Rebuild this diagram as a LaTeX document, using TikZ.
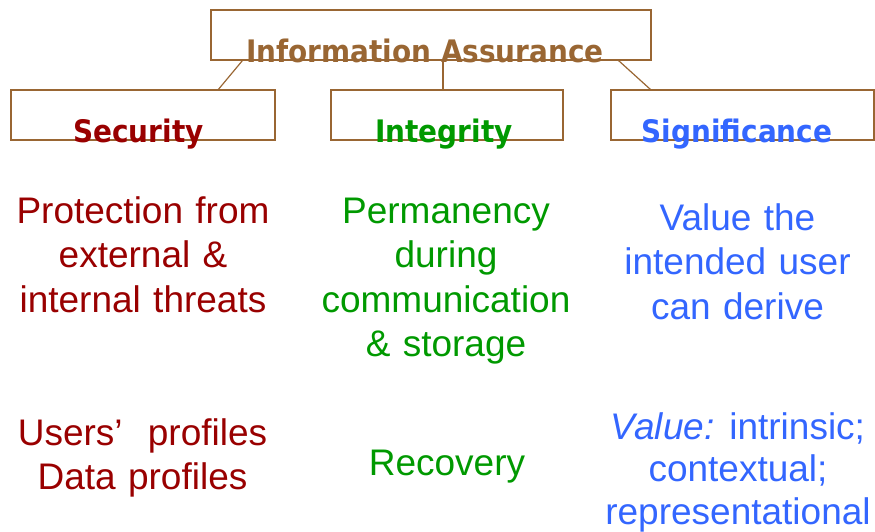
\documentclass[tikz,border=0pt]{standalone}
\usepackage{fontspec}
\setmainfont{Liberation Sans}
\newfontfamily\headfont{DejaVu Sans Condensed}
\usetikzlibrary{positioning}
\definecolor{iabrown}{RGB}{153,102,51}
\definecolor{secred}{RGB}{153,0,0}
\definecolor{intgreen}{RGB}{0,153,0}
\definecolor{sigblue}{RGB}{51,102,255}
\tikzset{box/.style={rectangle,draw=iabrown,line width=1.2pt,minimum height=50pt,inner sep=0pt}}
\tikzset{head/.style={anchor=base,inner sep=0pt,font=\headfont\bfseries\fontsize{31}{36}\selectfont}}
\tikzset{body/.style={anchor=base,inner sep=0pt,text width=300pt,align=center,font=\fontsize{37}{44.5}\selectfont}}
\tikzset{link/.style={draw=iabrown,line width=1.2pt}}
\begin{document}
\begin{tikzpicture}[x=1pt,y=-1pt]
\useasboundingbox (0,0) rectangle (875,531);
\node[box,minimum width=440pt](IA) at (431,35) {};
\node[box,minimum width=264pt](Sec) at (143,115) {};
\node[box,minimum width=232pt](Int) at (447,115) {};
\node[box,minimum width=263pt](Sig) at (742.5,115) {};

\draw[link] ([xshift=32]IA.south west) -- ([xshift=208]Sec.north west);
\draw[link] ([xshift=-4]Int.north) -- ([xshift=-4]Int.north |- IA.south);
\draw[link] ([xshift=-33]IA.south east) -- ([xshift=40]Sig.north west);

\node[head,text=iabrown](IAt) at (425,62) {Information Assurance};
\node[head,text=secred](Sect) at (138.5,142) {Security};
\node[head,text=intgreen](Intt) at (444,142) {Integrity};
\node[head,text=sigblue](Sigt) at (737,142) {Significance};

\node[body,text=secred](Secd) at (143,223) {Protection from\\external \&\\internal threats};
\node[body,text=intgreen](Intd) at (446,223) {Permanency\\during\\communication\\\& storage};
\node[body,text=sigblue](Sigd) at (737.5,230) {Value the\\intended user\\can derive};

\node[body,text=secred](Secp) at (142.5,445) {Users’\hspace{0.35em} profiles\\Data profiles};
\node[body,text=intgreen](Intp) at (447,475) {Recovery};
\node[body,text=sigblue,font=\fontsize{37}{42.5}\selectfont](Sigp) at (738,439) {\textit{Value:}\hspace{-0.1em} intrinsic;\\contextual;\\representational};
\end{tikzpicture}
\end{document}
